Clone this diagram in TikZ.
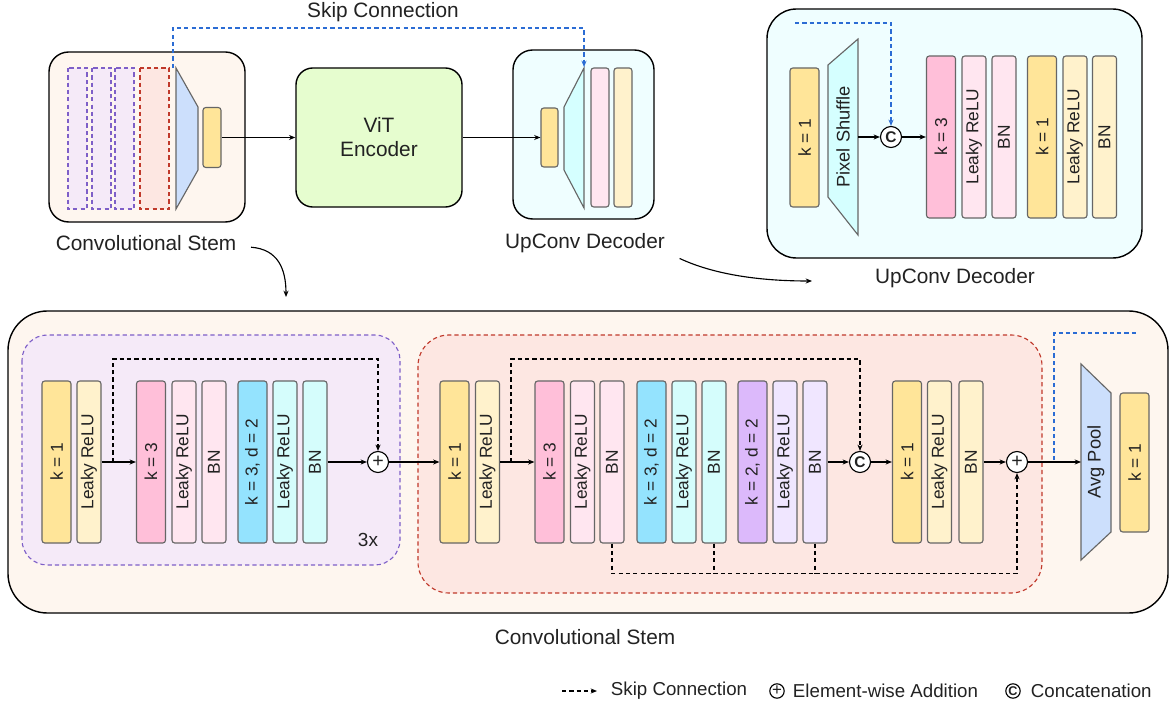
\documentclass[tikz,border=0pt]{standalone}
\usepackage{fontspec}
\setmainfont{Liberation Sans}
\usetikzlibrary{arrows.meta}

\definecolor{stemfill}{HTML}{FEF6EF}
\definecolor{decfill}{HTML}{EFFEFF}
\definecolor{vitfill}{HTML}{E6FDCF}
\definecolor{resfill}{HTML}{F5EAF8}
\definecolor{resline}{HTML}{7E5FC8}
\definecolor{dilfill}{HTML}{FDE7E2}
\definecolor{dilline}{HTML}{C0392B}
\definecolor{skipblue}{HTML}{2B6CD4}
\definecolor{blkline}{HTML}{666666}
\definecolor{txt}{HTML}{222222}
\definecolor{yel}{HTML}{FFE599}
\definecolor{yelL}{HTML}{FFF2CC}
\definecolor{pnk}{HTML}{FFBFD9}
\definecolor{pnkL}{HTML}{FFE6F0}
\definecolor{cyn}{HTML}{94E3FE}
\definecolor{cynL}{HTML}{D5FDFC}
\definecolor{prp}{HTML}{DCB9FB}
\definecolor{prpL}{HTML}{F0E6FF}
\definecolor{poolfill}{HTML}{CCDFFC}
\definecolor{shufill}{HTML}{D5FFFF}

\tikzset{
  blk/.style={draw=blkline, line width=0.8pt, rounded corners=2pt, rotate=90, inner sep=0pt,
    minimum width=4.05cm, minimum height=0.725cm, text=txt, font=\fontsize{12.3}{13}\selectfont},
  nblk/.style={blk, minimum height=0.6cm},
  sblk/.style={blk, minimum width=3.475cm},
  op/.style={draw, circle, fill=white, line width=0.8pt, minimum size=0.525cm, inner sep=0pt,
    text=txt, font=\fontsize{14}{14}\selectfont},
  catop/.style={op, font=\fontsize{11}{11}\selectfont\bfseries},
  arr/.style={-{Stealth[length=4.5pt,width=3.6pt]}, line width=0.8pt},
  skiparr/.style={arr, dash pattern=on 3pt off 2.2pt},
  dashline/.style={line width=0.8pt, dash pattern=on 3pt off 2.2pt},
  lbl/.style={text=txt, font=\fontsize{14.8}{17}\selectfont},
  lgd/.style={text=txt, font=\fontsize{13.3}{15}\selectfont},
  trap/.style={draw=blkline, line width=0.8pt},
}

\begin{document}
\begin{tikzpicture}[x=0.025cm, y=-0.025cm]
\useasboundingbox (0,0) rectangle (1170,702);

% overview: convolutional stem
\draw[fill=stemfill, line width=1pt, rounded corners=14pt] (49,52) rectangle (245,222);
\foreach \x in {68,92,115}
  \draw[resline, fill=resfill, dashline] (\x,68) rectangle ++(19,141);
\draw[dilline, fill=dilfill, dashline] (140,68) rectangle (169,209);
\draw[trap, fill=poolfill] (176,68) -- (198,107) -- (198,170) -- (176,209) -- cycle;
\node[blk, fill=yel, minimum width=1.5cm, minimum height=0.45cm] (stemout) at (212,137.5) {};
\node[lbl] (stemlbl) at (146,243) {Convolutional Stem};

% overview: encoder
\node[draw, fill=vitfill, line width=1pt, rounded corners=12pt, minimum width=4.15cm,
  minimum height=3.475cm, align=center, lbl] (vit) at (379,137.5) {ViT\\Encoder};

% overview: decoder
\draw[fill=decfill, line width=1pt, rounded corners=14pt] (513,50) rectangle (654,219);
\node[blk, fill=yel, minimum width=1.475cm, minimum height=0.425cm] (decin) at (549.5,137.5) {};
\draw[trap, fill=shufill] (564,107) -- (584,68) -- (584,208) -- (564,170) -- cycle;
\node[blk, fill=pnkL, minimum width=3.475cm, minimum height=0.45cm] (decp) at (600,137.5) {};
\node[blk, fill=yelL, minimum width=3.475cm, minimum height=0.45cm] (decy) at (623,137.5) {};
\node[lbl] (upclbl) at (585,243) {UpConv Decoder};

\draw[arr] (stemout) -- (vit);
\draw[arr] (vit) -- (decin);
\coordinate (skipsrc) at (173,68);
\coordinate (skipdst) at (584,67);
\draw[skiparr, skipblue] (skipsrc) -- ++(0,-40) -| (skipdst);
\node[lbl] (skiplbl) at (383,12) {Skip Connection};

% decoder in detail
\draw[fill=decfill, line width=1pt, rounded corners=21pt] (767,9) rectangle (1142,258);
\node[sblk, fill=yel] (d1) at (804.5,137.5) {k = 1};
\draw[trap, fill=shufill] (828,65) -- (858,39) -- (858,235) -- (828,197) -- cycle;
\node[rotate=90, text=txt, font=\fontsize{13}{13}\selectfont] (shuf) at (843,137) {Pixel Shuffle};
\node[catop] (cat0) at (891,137) {C};
\node[blk, fill=pnk] (d2) at (941,137) {k = 3};
\node[nblk, fill=pnkL] (d3) at (974,137) {Leaky ReLU};
\node[nblk, fill=pnkL] (d4) at (1004,137) {BN};
\node[blk, fill=yel] (d5) at (1042,137) {k = 1};
\node[nblk, fill=yelL] (d6) at (1075,137) {Leaky ReLU};
\node[nblk, fill=yelL] (d7) at (1104.5,137) {BN};
\coordinate (shufout) at (858,137);
\draw[arr] (shufout) -- (cat0);
\draw[arr] (cat0) -- (d2);
\coordinate (decskip) at (795,23);
\draw[skiparr, skipblue] (decskip) -| (cat0);
\node[lbl] (declbl) at (955,278) {UpConv Decoder};

% pointers to the details
\coordinate (stemgo) at (286,297);
\coordinate (decgo) at (812,281);
\draw[arr] ([xshift=7pt,yshift=-3pt]stemlbl.east) .. controls +(27,2) and +(0,-28) .. (stemgo);
\draw[arr] ([xshift=7pt,yshift=-11pt]upclbl.east) .. controls +(30,14) and +(-60,0) .. (decgo);

% convolutional stem in detail
\draw[fill=stemfill, line width=1pt, rounded corners=28pt] (8,311) rectangle (1168,613);
\draw[resline, fill=resfill, dashline, rounded corners=18pt] (22,335) rectangle (400,565);
\draw[dilline, fill=dilfill, dashline, rounded corners=22pt] (418,335) rectangle (1042,593);

% residual block
\node[blk, fill=yel] (r1) at (56.5,462) {k = 1};
\node[nblk, fill=yelL] (r2) at (89,462) {Leaky ReLU};
\node[blk, fill=pnk] (r3) at (151,462) {k = 3};
\node[nblk, fill=pnkL] (r4) at (184,462) {Leaky ReLU};
\node[nblk, fill=pnkL] (r5) at (214,462) {BN};
\node[blk, fill=cyn] (r6) at (252.5,462) {k = 3, d = 2};
\node[nblk, fill=cynL] (r7) at (285,462) {Leaky ReLU};
\node[nblk, fill=cynL] (r8) at (315,462) {BN};
\node[op] (add1) at (378,462) {+};
\node[text=txt, font=\fontsize{13.5}{14}\selectfont] (rep) at (368,540) {3x};
\draw[arr] (r2) -- (r3);
\draw[arr] (r8) -- (add1);
\coordinate (rskip) at (113,462);
\draw[skiparr] (rskip) -- ++(0,-103) -| (add1);

% dilated block
\node[blk, fill=yel] (m1) at (454.5,462) {k = 1};
\node[nblk, fill=yelL] (m2) at (487.5,462) {Leaky ReLU};
\node[blk, fill=pnk] (m3) at (549.5,462) {k = 3};
\node[nblk, fill=pnkL] (m4) at (582.5,462) {Leaky ReLU};
\node[nblk, fill=pnkL] (m5) at (612,462) {BN};
\node[blk, fill=cyn] (m6) at (651.5,462) {k = 3, d = 2};
\node[nblk, fill=cynL] (m7) at (684,462) {Leaky ReLU};
\node[nblk, fill=cynL] (m8) at (714,462) {BN};
\node[blk, fill=prp] (m9) at (752.5,462) {k = 2, d = 2};
\node[nblk, fill=prpL] (m10) at (785,462) {Leaky ReLU};
\node[nblk, fill=prpL] (m11) at (815,462) {BN};
\node[catop] (cat1) at (860,462) {C};
\node[blk, fill=yel] (m12) at (907,462) {k = 1};
\node[nblk, fill=yelL] (m13) at (939.5,462) {Leaky ReLU};
\node[nblk, fill=yelL] (m14) at (971,462) {BN};
\node[op] (add2) at (1017,462) {+};
\draw[arr] (add1) -- (m1);
\draw[arr] (m2) -- (m3);
\draw[arr] (m11) -- (cat1);
\draw[arr] (cat1) -- (m12);
\draw[arr] (m14) -- (add2);
\coordinate (mskip) at (511,462);
\draw[skiparr] (mskip) -- ++(0,-103) -| (cat1);
\draw[skiparr] (m5.west) -- ++(0,30) -| (add2);
\draw[dashline] (m8.west) -- ++(0,30);
\draw[dashline] (m11.west) -- ++(0,30);

% pooling
\draw[trap, fill=poolfill] (1081,364) -- (1111,393) -- (1111,532) -- (1081,560) -- cycle;
\node[rotate=90, text=txt, font=\fontsize{13}{13}\selectfont] (pool) at (1096,462) {Avg Pool};
\node[sblk, fill=yel] (out1) at (1134.5,462.5) {k = 1};
\coordinate (poolin) at (1081,462);
\draw[arr] (add2) -- (poolin);
\coordinate (blueup) at (1054,460);
\draw[dashline, skipblue] (blueup) -- ++(0,-127) -- ++(83,0);
\node[lbl] (stemlbl2) at (585,637) {Convolutional Stem};

% legend
\coordinate (lg0) at (562,691);
\coordinate (lg1) at (597,691);
\draw[skiparr] (lg0) -- (lg1);
\node[lgd, anchor=west] (lgskip) at (606,691) {Skip Connection};
\node[op, minimum size=0.36cm, font=\fontsize{12}{12}\selectfont] (lgadd) at (777,691) {+};
\node[lgd, anchor=west] (lgaddt) at (788,691) {Element-wise Addition};
\node[catop, minimum size=0.36cm, font=\fontsize{9}{9}\selectfont\bfseries] (lgcat) at (1013,691) {C};
\node[lgd, anchor=west] (lgcatt) at (1026,691) {Concatenation};
\end{tikzpicture}
\end{document}
